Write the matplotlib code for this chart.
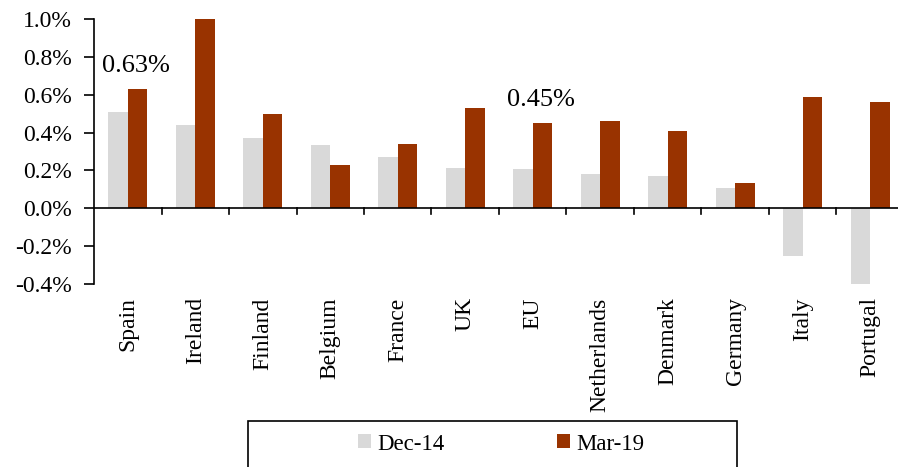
import matplotlib
matplotlib.use("Agg")
import matplotlib.pyplot as plt
import numpy as np
from matplotlib.ticker import FuncFormatter
from matplotlib.patches import Rectangle

countries = ["Spain", "Ireland", "Finland", "Belgium", "France", "UK", "EU",
             "Netherlands", "Denmark", "Germany", "Italy", "Portugal"]
dec14 = [0.51, 0.44, 0.37, 0.335, 0.27, 0.215, 0.205, 0.18, 0.168, 0.106, -0.254, -0.407]
mar19 = [0.63, 1.0, 0.50, 0.229, 0.339, 0.531, 0.45, 0.459, 0.406, 0.131, 0.587, 0.559]
series_names = ["Dec-14", "Mar-19"]
annotations = [("Spain", 0.63, "0.63%"), ("EU", 0.45, "0.45%")]

plt.rcParams['font.family'] = ['Liberation Serif', 'DejaVu Serif']

W, H = 898, 467
fig = plt.figure(figsize=(W / 100, H / 100), dpi=100)
# axes: left x=94, zero line y=208, top(1.0)=19, bottom(-0.4)=284, tick spacing 67.5
left, right = 94, 94 + 67.5 * 12
top, bottom = 19, 284
ax = fig.add_axes([left / W, 1 - bottom / H, (right - left) / W, (bottom - top) / H])

x = np.arange(len(countries))
bw = 0.286
ax.bar(x - bw / 2, dec14, width=bw, color="#D9D9D9", label=series_names[0], zorder=2)
ax.bar(x + bw / 2, mar19, width=bw, color="#993300", label=series_names[1], zorder=2)

ax.set_xlim(-0.5, len(countries) - 0.5)
ax.set_ylim(-0.4, 1.0)
ax.set_yticks(np.arange(-0.4, 1.01, 0.2))
ax.yaxis.set_major_formatter(FuncFormatter(lambda v, p: f"{v:.1f}%"))

for s in ["top", "right", "bottom"]:
    ax.spines[s].set_visible(False)
ax.spines["left"].set_linewidth(1.2)
ax.axhline(0, color="black", linewidth=1.2, zorder=3)

ax.tick_params(axis="y", labelsize=17, length=7, width=1.2, direction="out", pad=9)
ax.set_xticks([])
# category boundary tick marks on the zero line
for b in np.arange(0.5, len(countries), 1.0):
    ax.plot([b, b], [0, -0.032], color="black", linewidth=1.2, clip_on=False, zorder=3)
for i, c in enumerate(countries):
    ax.text(i, -0.47, c, rotation=90, ha="center", va="top", fontsize=17)

for name, val, txt in annotations:
    i = countries.index(name)
    ax.text(i - 0.38, val + 0.065, txt, ha="left", va="bottom", fontsize=19)

# legend frame (extends beyond the bottom edge as in the reference)
fig.patches.append(Rectangle((248 / W, -0.05), (737 - 248) / W, 1 - 421 / H + 0.05,
                             transform=fig.transFigure, fill=False, edgecolor="black",
                             linewidth=1.2))
leg = fig.legend(loc="center left", bbox_to_anchor=(358 / W, 1 - 444 / H), ncol=2,
                 frameon=False, fontsize=16.5, handlelength=0.55, handleheight=0.55,
                 handletextpad=0.3, columnspacing=4.9, borderpad=0, borderaxespad=0)

fig.savefig("out.png", dpi=100)
